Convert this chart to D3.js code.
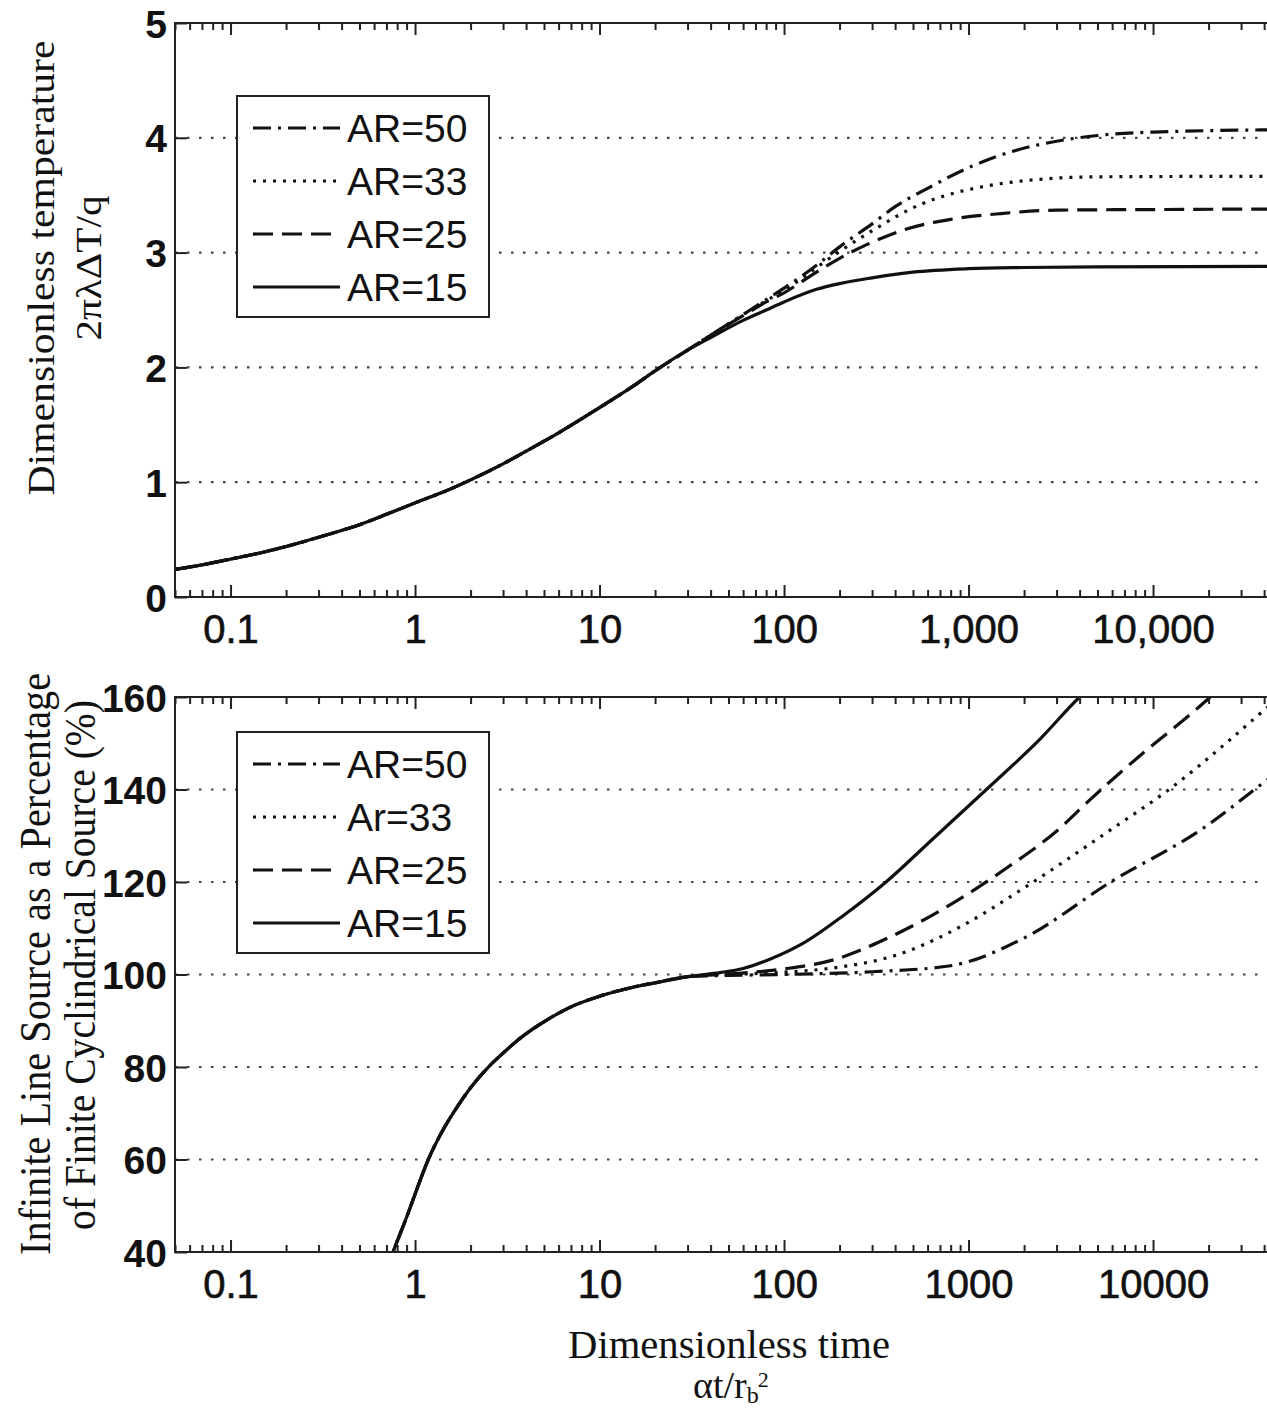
<!DOCTYPE html>
<html>
<head>
<meta charset="utf-8">
<script src="https://cdn.jsdelivr.net/npm/d3@7"></script>
<style>
  body { margin: 0; background: #fff; }
  svg { display: block; }
</style>
</head>
<body>
<div id="chart"></div>
<script>
// ---- values ----
const legendTop = ["AR=50", "AR=33", "AR=25", "AR=15"];
const legendBottom = ["AR=50", "Ar=33", "AR=25", "AR=15"];
const majorX = [0.1, 1, 10, 100, 1000, 10000];
const topXLabels = ["0.1", "1", "10", "100", "1,000", "10,000"];
const bottomXLabels = ["0.1", "1", "10", "100", "1000", "10000"];
const topYTicks = [0, 1, 2, 3, 4, 5];
const bottomYTicks = [40, 60, 80, 100, 120, 140, 160];

// top panel: part shared by every aspect ratio
const topBaseX = [0.05, 0.07, 0.1, 0.15, 0.2, 0.3, 0.4, 0.5, 0.7, 1, 1.5, 2, 3, 4, 6, 10, 15, 20, 30];
const topBaseY = [0.24, 0.28, 0.33, 0.39, 0.44, 0.52, 0.58, 0.63, 0.72, 0.82, 0.93, 1.02, 1.16, 1.27, 1.43, 1.65, 1.83, 1.97, 2.15];
const top50X = [40, 60, 80, 100, 150, 200, 300, 400, 600, 1000, 1800, 3000, 5000, 10000, 50000];
const top50Y = [2.28, 2.46, 2.59, 2.69, 2.89, 3.05, 3.25, 3.40, 3.56, 3.74, 3.89, 3.97, 4.02, 4.05, 4.07];
const top33X = [40, 60, 80, 100, 150, 200, 300, 550, 800, 1250, 2500, 5000, 50000];
const top33Y = [2.28, 2.46, 2.58, 2.67, 2.87, 3.01, 3.19, 3.42, 3.51, 3.58, 3.64, 3.66, 3.665];
const top25X = [40, 60, 80, 100, 150, 200, 300, 450, 800, 1500, 3000, 10000, 50000];
const top25Y = [2.28, 2.45, 2.57, 2.65, 2.83, 2.95, 3.09, 3.20, 3.29, 3.34, 3.37, 3.375, 3.38];
const top15X = [40, 60, 80, 100, 150, 200, 300, 500, 1000, 2000, 5000, 50000];
const top15Y = [2.26, 2.41, 2.50, 2.57, 2.68, 2.73, 2.78, 2.83, 2.86, 2.87, 2.875, 2.88];

// bottom panel
const botBaseX = [0.7, 0.76, 0.9, 1.0, 1.18, 1.4, 1.7, 2.0, 2.5, 3, 3.6, 5.2, 7, 10, 15, 20, 31];
const botBaseY = [36, 40, 47.5, 52.5, 60, 66, 71.5, 75.5, 80, 83, 85.8, 90.2, 93, 95.3, 97.2, 98.2, 99.6];
const bot50X = [50, 100, 300, 800, 1960, 6000, 18500, 38000, 60000];
const bot50Y = [99.8, 100, 100.6, 101.9, 107.7, 120.2, 131.5, 140.9, 147];
const bot33X = [50, 100, 200, 400, 1000, 1960, 6000, 12300, 26400, 37000, 60000];
const bot33Y = [100, 100.5, 101.6, 104.1, 111.3, 118.5, 131.5, 140.1, 150.9, 156, 163];
const bot25X = [50, 100, 183, 370, 760, 1580, 3100, 4500, 8900, 16000, 30000];
const bot25Y = [100.1, 101.2, 103.1, 108, 114.6, 122.8, 131.5, 137.6, 148, 156.3, 166];
const bot15X = [45, 60, 85, 130, 209, 357, 640, 1250, 2440, 4000, 6000];
const bot15Y = [100.4, 101.3, 103.4, 107, 112.7, 120, 129.3, 140, 150.9, 160, 166];

// ---- layout ----
const size = {
    width: 1267,
    height: 1411,
    left: 175,
    right: 1282,
};
const dashes = ["18,7,3,7", "3,7", "20,9", null]; // AR50, AR33, AR25, AR15

const svg = d3.select("#chart").append("svg")
    .attr("width", size.width)
    .attr("height", size.height);

const x = d3.scaleLog().domain([0.05, 50000]).range([size.left, size.right]);

// minor tick positions (2..9 of each decade)
const minorX = [];
for (let p = -2; p <= 4; p++) {
    for (let m = 2; m <= 9; m++) {
        const v = m * Math.pow(10, p);
        if (v >= 0.05 && v <= 50000) minorX.push(v);
    }
}

const join = (bx, by, tx, ty) =>
    bx.map((v, i) => [v, by[i]]).concat(tx.map((v, i) => [v, ty[i]]));

function drawPanel(opt) {
    const y = d3.scaleLinear().domain(opt.yDomain).range([opt.y1, opt.y0]);
    const g = svg.append("g");

    g.append("clipPath").attr("id", opt.id)
        .append("rect")
        .attr("x", size.left).attr("y", opt.y0)
        .attr("width", size.right - size.left).attr("height", opt.y1 - opt.y0);

    // dotted grid lines
    g.append("g").selectAll("line")
        .data(opt.yTicks.slice(1, -1))
        .enter().append("line")
        .attr("x1", size.left).attr("x2", size.right)
        .attr("y1", d => y(d)).attr("y2", d => y(d))
        .attr("stroke", "#444")
        .attr("stroke-width", 2.2)
        .attr("stroke-dasharray", "2.5,9.5");

    // curves
    const line = d3.line()
        .x(d => x(d[0]))
        .y(d => y(d[1]))
        .curve(d3.curveMonotoneX);

    g.append("g").attr("clip-path", `url(#${opt.id})`)
        .selectAll("path")
        .data(opt.series.slice().reverse())
        .enter().append("path")
        .attr("d", d => line(d.points))
        .attr("fill", "none")
        .attr("stroke", "#111")
        .attr("stroke-width", 3.2)
        .attr("stroke-dasharray", d => d.dash);

    // ticks, inward, on bottom and top
    const tickAxis = (axis, len, values, yPos) => {
        g.append("g")
            .attr("transform", `translate(0,${yPos})`)
            .call(axis(x).tickValues(values).tickSize(-len).tickSizeOuter(0).tickFormat(""))
            .call(a => a.select(".domain").remove())
            .selectAll("line").attr("stroke", "#222").attr("stroke-width", 2);
    };
    tickAxis(d3.axisBottom, 12, majorX, opt.y1);
    tickAxis(d3.axisBottom, 7, minorX, opt.y1);
    tickAxis(d3.axisTop, 12, majorX, opt.y0);
    tickAxis(d3.axisTop, 7, minorX, opt.y0);

    g.append("g")
        .attr("transform", `translate(${size.left},0)`)
        .call(d3.axisLeft(y).tickValues(opt.yTicks).tickSize(-12).tickSizeOuter(0).tickFormat(""))
        .call(a => a.select(".domain").remove())
        .selectAll("line").attr("stroke", "#222").attr("stroke-width", 2);

    // frame
    g.append("path")
        .attr("d", `M${size.right},${opt.y0}H${size.left}V${opt.y1}H${size.right}Z`)
        .attr("fill", "none").attr("stroke", "#222").attr("stroke-width", 2);

    // tick labels
    const xl = g.append("g")
        .attr("transform", `translate(0,${opt.y1})`)
        .call(d3.axisBottom(x).tickValues(majorX).tickSize(0).tickFormat((d, i) => opt.xLabels[i]));
    xl.select(".domain").remove();
    xl.selectAll("text")
        .attr("y", 46).attr("dy", 0)
        .attr("font-family", "Liberation Sans, Arial, sans-serif")
        .attr("font-size", 40)
        .attr("fill", "#111")
        .attr("stroke", "#111").attr("stroke-width", 0.6);

    const yl = g.append("g")
        .attr("transform", `translate(${size.left},0)`)
        .call(d3.axisLeft(y).tickValues(opt.yTicks).tickSize(0).tickPadding(8).tickFormat(d3.format("d")));
    yl.select(".domain").remove();
    yl.selectAll("text")
        .attr("dy", "0.36em")
        .attr("font-family", "Liberation Sans, Arial, sans-serif")
        .attr("font-size", 39)
        .attr("font-weight", "bold")
        .attr("fill", "#111");

    // legend
    const lg = g.append("g");
    lg.append("rect")
        .attr("x", 237).attr("y", opt.legendY)
        .attr("width", 252).attr("height", 221)
        .attr("fill", "#fff").attr("stroke", "#222").attr("stroke-width", 2);
    opt.series.forEach((s, i) => {
        const by = opt.legendY + 46 + i * 53;
        lg.append("line")
            .attr("x1", 253).attr("x2", 340)
            .attr("y1", by - 14).attr("y2", by - 14)
            .attr("stroke", "#111").attr("stroke-width", 3.2)
            .attr("stroke-dasharray", s.dash);
        lg.append("text")
            .attr("x", 347).attr("y", by)
            .attr("font-family", "Liberation Sans, Arial, sans-serif")
            .attr("font-size", 39)
            .attr("fill", "#111")
            .text(s.label);
    });
}

drawPanel({
    id: "clipTop",
    y0: 23, y1: 597,
    yDomain: [0, 5],
    yTicks: topYTicks,
    xLabels: topXLabels,
    legendY: 96,
    series: [
        { label: legendTop[0], dash: dashes[0], points: join(topBaseX, topBaseY, top50X, top50Y) },
        { label: legendTop[1], dash: dashes[1], points: join(topBaseX, topBaseY, top33X, top33Y) },
        { label: legendTop[2], dash: dashes[2], points: join(topBaseX, topBaseY, top25X, top25Y) },
        { label: legendTop[3], dash: dashes[3], points: join(topBaseX, topBaseY, top15X, top15Y) },
    ],
});

drawPanel({
    id: "clipBottom",
    y0: 697, y1: 1252,
    yDomain: [40, 160],
    yTicks: bottomYTicks,
    xLabels: bottomXLabels,
    legendY: 732,
    series: [
        { label: legendBottom[0], dash: dashes[0], points: join(botBaseX, botBaseY, bot50X, bot50Y) },
        { label: legendBottom[1], dash: dashes[1], points: join(botBaseX, botBaseY, bot33X, bot33Y) },
        { label: legendBottom[2], dash: dashes[2], points: join(botBaseX, botBaseY, bot25X, bot25Y) },
        { label: legendBottom[3], dash: dashes[3], points: join(botBaseX, botBaseY, bot15X, bot15Y) },
    ],
});

// axis titles
const serif = "Liberation Serif, Times New Roman, serif";
const vTitle = (txt, cx, cy, fs, len) => {
    svg.append("text")
        .attr("transform", `translate(${cx},${cy}) rotate(-90)`)
        .attr("text-anchor", "middle")
        .attr("font-family", serif)
        .attr("font-size", fs)
        .attr("fill", "#111")
        .attr("textLength", len)
        .attr("lengthAdjust", "spacingAndGlyphs")
        .text(txt);
};
vTitle("Dimensionless temperature", 54, 268, 38, 455);
vTitle("2\u03C0\u03BB\u0394T/q", 101, 268, 36, 145);
vTitle("Infinite Line Source as a Percentage", 50, 964, 44, 582);
vTitle("of Finite Cyclindrical Source (%)", 95, 965, 44, 530);

svg.append("text")
    .attr("x", 729).attr("y", 1358)
    .attr("text-anchor", "middle")
    .attr("font-family", serif)
    .attr("font-size", 41)
    .attr("fill", "#111")
    .attr("textLength", 322)
    .attr("lengthAdjust", "spacingAndGlyphs")
    .text("Dimensionless time");

const sub = svg.append("text")
    .attr("x", 693).attr("y", 1398)
    .attr("font-family", serif)
    .attr("font-size", 38)
    .attr("fill", "#111");
sub.append("tspan").text("\u03B1t/r");
sub.append("tspan").attr("font-size", 24).attr("dy", 5).text("b");
sub.append("tspan").attr("font-size", 22).attr("dx", -1).attr("dy", -16).text("2");
</script>
</body>
</html>
